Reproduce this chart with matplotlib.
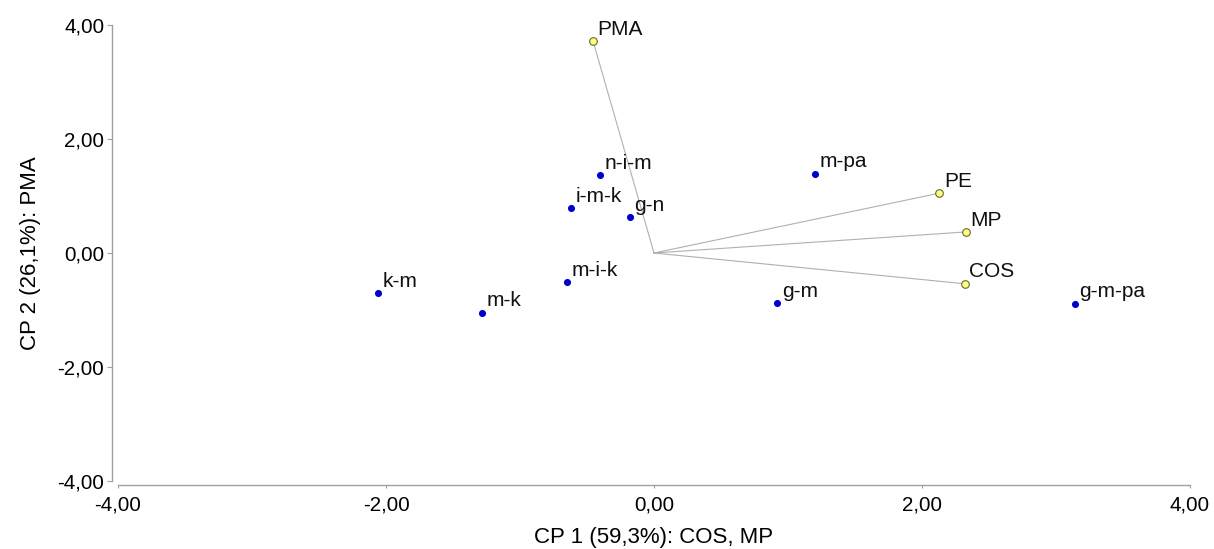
import matplotlib
matplotlib.use("Agg")
import matplotlib.pyplot as plt
from matplotlib import font_manager

# --- data ---
obj_names = ["n-i-m", "i-m-k", "g-n", "m-i-k", "k-m", "m-k", "g-m", "m-pa", "g-m-pa"]
obj_x = [-0.40, -0.62, -0.18, -0.65, -2.06, -1.28, 0.92, 1.20, 3.14]
obj_y = [1.37, 0.79, 0.63, -0.51, -0.70, -1.05, -0.88, 1.39, -0.89]

var_names = ["PMA", "PE", "MP", "COS"]
var_x = [-0.455, 2.13, 2.33, 2.32]
var_y = [3.72, 1.05, 0.37, -0.54]

ticks = [-4, -2, 0, 2, 4]
tick_labels = ["-4,00", "-2,00", "0,00", "2,00", "4,00"]
xlabel = "CP 1 (59,3%): COS, MP"
ylabel = "CP 2 (26,1%): PMA"

names = {f.name for f in font_manager.fontManager.ttflist}
base = "Liberation Sans" if "Liberation Sans" in names else "DejaVu Sans"
plt.rcParams["font.family"] = [base, "DejaVu Sans"]

fig = plt.figure(figsize=(12.14, 5.49), dpi=100)
ax = fig.add_axes([118/1214, 1-481/549, (1190-118)/1214, (481-25)/549])
ax.set_xlim(-4, 4)
ax.set_ylim(-4, 4)

for vx, vy in zip(var_x, var_y):
    ax.plot([0, vx], [0, vy], color="#b0b0b0", lw=0.8, zorder=1)
ax.scatter(var_x, var_y, s=30, facecolor="#ffff80", edgecolor="#666633", linewidths=0.8, zorder=3)
ax.scatter(obj_x, obj_y, s=26, color="#0000cc", zorder=3, linewidths=0)

for n, x, y in zip(obj_names + var_names, obj_x + var_x, obj_y + var_y):
    ax.annotate(n, (x, y), xytext=(3.2, 4.6), textcoords="offset points",
                fontsize=15, color="#111111", ha="left", va="baseline")

for s in ["top", "right"]:
    ax.spines[s].set_visible(False)
ax.spines["left"].set_position(("outward", 4.3))
ax.spines["bottom"].set_position(("outward", 2.9))
for s in ["left", "bottom"]:
    ax.spines[s].set_color("#a0a0a0")
    ax.spines[s].set_linewidth(1.0)

ax.set_xticks(ticks)
ax.set_xticklabels(tick_labels, fontsize=14.8)
ax.set_yticks(ticks)
ax.set_yticklabels(tick_labels, fontsize=14.8)
ax.tick_params(axis="y", direction="out", length=3.6, color="#a0a0a0", pad=2)
ax.tick_params(axis="x", direction="out", length=2.5, color="#a0a0a0", pad=5)
ax.set_xlabel(xlabel, fontsize=16, labelpad=9)
ax.set_ylabel(ylabel, fontsize=16, labelpad=12)

fig.savefig("out.png", dpi=100)
